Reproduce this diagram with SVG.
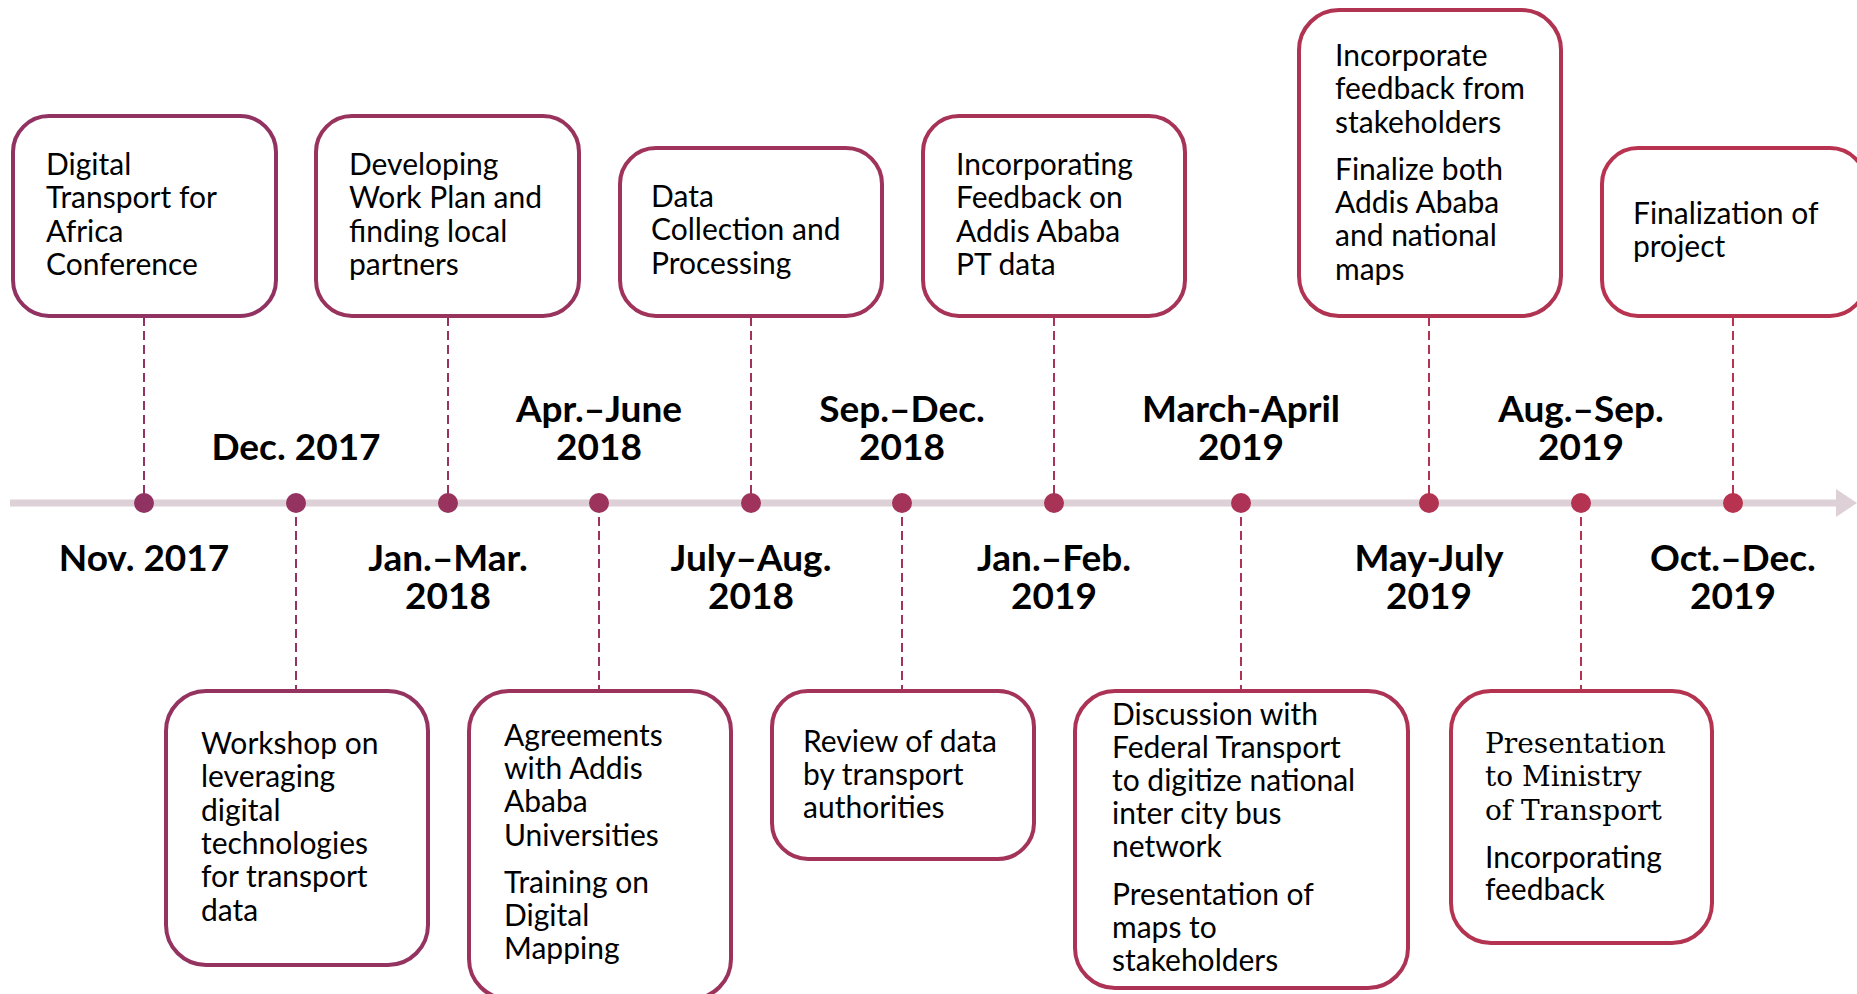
<svg xmlns="http://www.w3.org/2000/svg" width="1857" height="994" viewBox="0 0 1857 994">
<style>
.box{fill:#ffffff;stroke-width:4}
.t{font-family:Lato,"Open Sans",sans-serif;font-size:30px;fill:#000}
.s{font-family:"DejaVu Serif","Liberation Serif",serif;font-size:28px;fill:#000}
.d{font-family:Lato,"Open Sans",sans-serif;font-size:37px;font-weight:bold;fill:#000;text-anchor:middle}
.dash{stroke-width:2;stroke-dasharray:9 5;fill:none}
</style>
<rect width="1857" height="994" fill="#ffffff"/>
<g id="axis">
<line x1="10" y1="503" x2="1840" y2="503" stroke="#ddd0d6" stroke-width="7"/>
<polygon points="1836,489 1857,503 1836,517" fill="#ddd0d6"/>
</g>
<g id="connectors">
<line class="dash" x1="144" y1="317" x2="144" y2="503" stroke="#913362"/>
<line class="dash" x1="448" y1="317" x2="448" y2="503" stroke="#98335e"/>
<line class="dash" x1="751" y1="317" x2="751" y2="503" stroke="#9f335b"/>
<line class="dash" x1="1054" y1="317" x2="1054" y2="503" stroke="#a73357"/>
<line class="dash" x1="1429" y1="317" x2="1429" y2="503" stroke="#b03352"/>
<line class="dash" x1="1733" y1="317" x2="1733" y2="503" stroke="#b8334f"/>
<line class="dash" x1="296" y1="503" x2="296" y2="689" stroke="#943360"/>
<line class="dash" x1="599" y1="503" x2="599" y2="689" stroke="#9c335d"/>
<line class="dash" x1="902" y1="503" x2="902" y2="689" stroke="#a33359"/>
<line class="dash" x1="1241" y1="503" x2="1241" y2="689" stroke="#ac3355"/>
<line class="dash" x1="1581" y1="503" x2="1581" y2="689" stroke="#b43350"/>
</g>
<g id="dots">
<circle cx="144" cy="503" r="10" fill="#913362"/>
<circle cx="296" cy="503" r="10" fill="#943360"/>
<circle cx="448" cy="503" r="10" fill="#98335e"/>
<circle cx="599" cy="503" r="10" fill="#9c335d"/>
<circle cx="751" cy="503" r="10" fill="#9f335b"/>
<circle cx="902" cy="503" r="10" fill="#a33359"/>
<circle cx="1054" cy="503" r="10" fill="#a73357"/>
<circle cx="1241" cy="503" r="10" fill="#ac3355"/>
<circle cx="1429" cy="503" r="10" fill="#b03352"/>
<circle cx="1581" cy="503" r="10" fill="#b43350"/>
<circle cx="1733" cy="503" r="10" fill="#b8334f"/>
</g>
<g id="dates">
<text class="d" x="144" y="571">Nov. 2017</text>
<text class="d" x="296" y="460">Dec. 2017</text>
<text class="d" x="448" y="571">Jan.–Mar.</text>
<text class="d" x="448" y="609">2018</text>
<text class="d" x="599" y="422">Apr.–June</text>
<text class="d" x="599" y="460">2018</text>
<text class="d" x="751" y="571">July–Aug.</text>
<text class="d" x="751" y="609">2018</text>
<text class="d" x="902" y="422">Sep.–Dec.</text>
<text class="d" x="902" y="460">2018</text>
<text class="d" x="1054" y="571">Jan.–Feb.</text>
<text class="d" x="1054" y="609">2019</text>
<text class="d" x="1241" y="422">March-April</text>
<text class="d" x="1241" y="460">2019</text>
<text class="d" x="1429" y="571">May-July</text>
<text class="d" x="1429" y="609">2019</text>
<text class="d" x="1581" y="422">Aug.–Sep.</text>
<text class="d" x="1581" y="460">2019</text>
<text class="d" x="1733" y="571">Oct.–Dec.</text>
<text class="d" x="1733" y="609">2019</text>
</g>
<g id="n1">
<rect class="box" x="13" y="116" width="263" height="200" rx="36" stroke="#913362"/>
<text class="t" x="46"><tspan x="46" y="175">Digital</tspan><tspan x="46" y="208">Transport for</tspan><tspan x="46" y="242">Africa</tspan><tspan x="46" y="275">Conference</tspan></text>
</g>
<g id="n2">
<rect class="box" x="316" y="116" width="263" height="200" rx="36" stroke="#98335e"/>
<text class="t"><tspan x="349" y="175">Developing</tspan><tspan x="349" y="208">Work Plan and</tspan><tspan x="349" y="242">finding local</tspan><tspan x="349" y="275">partners</tspan></text>
</g>
<g id="n3">
<rect class="box" x="620" y="148" width="262" height="168" rx="36" stroke="#9f335b"/>
<text class="t"><tspan x="651" y="207">Data</tspan><tspan x="651" y="240">Collection and</tspan><tspan x="651" y="274">Processing</tspan></text>
</g>
<g id="n4">
<rect class="box" x="923" y="116" width="262" height="200" rx="36" stroke="#a73357"/>
<text class="t"><tspan x="956" y="175">Incorporating</tspan><tspan x="956" y="208">Feedback on</tspan><tspan x="956" y="242">Addis Ababa</tspan><tspan x="956" y="275">PT data</tspan></text>
</g>
<g id="n5">
<rect class="box" x="1299" y="10" width="262" height="306" rx="40" stroke="#b03352"/>
<text class="t"><tspan x="1335" y="66">Incorporate</tspan><tspan x="1335" y="99">feedback from</tspan><tspan x="1335" y="133">stakeholders</tspan><tspan x="1335" y="180">Finalize both</tspan><tspan x="1335" y="213">Addis Ababa</tspan><tspan x="1335" y="246">and national</tspan><tspan x="1335" y="280">maps</tspan></text>
</g>
<g id="n6">
<rect class="box" x="1602" y="148" width="264" height="168" rx="36" stroke="#b8334f"/>
<text class="t"><tspan x="1633" y="224">Finalization of</tspan><tspan x="1633" y="257">project</tspan></text>
</g>
<g id="n7">
<rect class="box" x="166" y="691" width="262" height="274" rx="40" stroke="#943360"/>
<text class="t"><tspan x="201" y="754">Workshop on</tspan><tspan x="201" y="787">leveraging</tspan><tspan x="201" y="821">digital</tspan><tspan x="201" y="854">technologies</tspan><tspan x="201" y="887">for transport</tspan><tspan x="201" y="921">data</tspan></text>
</g>
<g id="n8">
<rect class="box" x="469" y="691" width="262" height="308" rx="40" stroke="#9c335d"/>
<text class="t"><tspan x="504" y="746">Agreements</tspan><tspan x="504" y="779">with Addis</tspan><tspan x="504" y="812">Ababa</tspan><tspan x="504" y="846">Universities</tspan><tspan x="504" y="893">Training on</tspan><tspan x="504" y="926">Digital</tspan><tspan x="504" y="959">Mapping</tspan></text>
</g>
<g id="n9">
<rect class="box" x="772" y="691" width="262" height="168" rx="36" stroke="#a33359"/>
<text class="t"><tspan x="803" y="752">Review of data</tspan><tspan x="803" y="785">by transport</tspan><tspan x="803" y="818">authorities</tspan></text>
</g>
<g id="n10">
<rect class="box" x="1075" y="691" width="333" height="297" rx="40" stroke="#ac3355"/>
<text class="t"><tspan x="1112" y="725">Discussion with</tspan><tspan x="1112" y="758">Federal Transport</tspan><tspan x="1112" y="791">to digitize national</tspan><tspan x="1112" y="824">inter city bus</tspan><tspan x="1112" y="857">network</tspan><tspan x="1112" y="905">Presentation of</tspan><tspan x="1112" y="938">maps to</tspan><tspan x="1112" y="971">stakeholders</tspan></text>
</g>
<g id="n11">
<rect class="box" x="1451" y="691" width="261" height="252" rx="40" stroke="#b43350"/>
<text class="s"><tspan x="1485" y="753">Presentation</tspan><tspan x="1485" y="786">to Ministry</tspan><tspan x="1485" y="820">of Transport</tspan></text>
<text class="t"><tspan x="1485" y="868">Incorporating</tspan><tspan x="1485" y="900">feedback</tspan></text>
</g>
</svg>
